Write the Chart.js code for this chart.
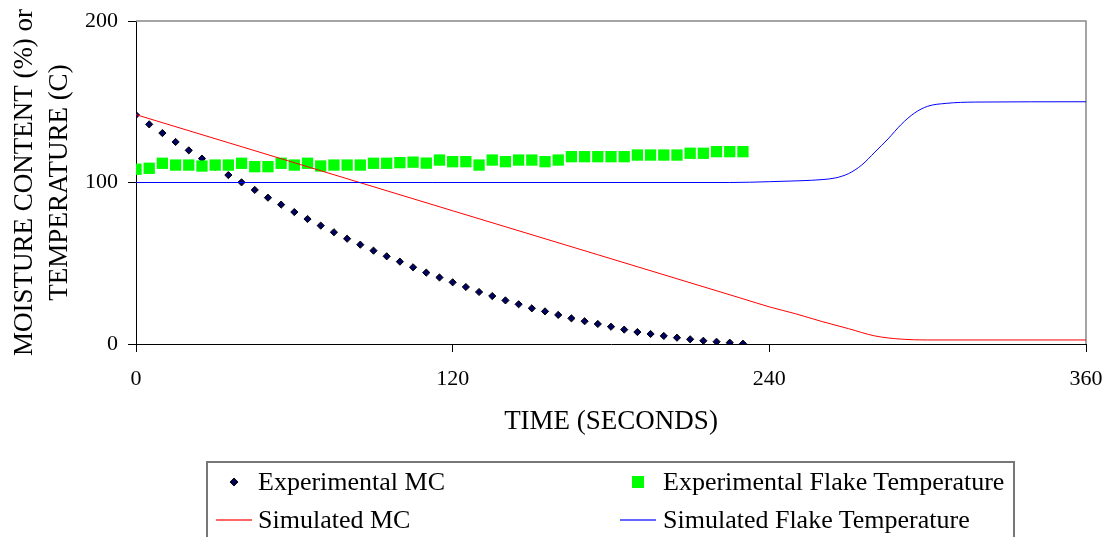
<!DOCTYPE html>
<html>
<head>
<meta charset="utf-8">
<script src="https://cdn.jsdelivr.net/npm/chart.js@4.4.1/dist/chart.umd.min.js"></script>
<style>
  body { margin: 0; background: #fff; }
  #wrap { position: relative; width: 1108px; height: 537px; overflow: hidden;
          font-family: 'Liberation Serif', 'Times New Roman', serif; }
  #legend { position: absolute; left: 206px; top: 461px; width: 809px; height: 100px;
            border: 2px solid #777; box-sizing: border-box; }
  .lg-text { position: absolute; font-size: 26px; line-height: 30px; white-space: nowrap; color: #000; }
  .lg-mark { position: absolute; }
</style>
</head>
<body>
<div id="wrap">
  <canvas id="chart" width="1108" height="537"></canvas>
  <div id="legend"></div>
</div>
<script>
/* drying curves: moisture content + flake temperature vs time */

// experimental samples, every 5 s
const expTime = [0, 5, 10, 15, 20, 25, 30, 35, 40, 45, 50, 55, 60, 65, 70, 75, 80, 85, 90, 95,
    100, 105, 110, 115, 120, 125, 130, 135, 140, 145, 150, 155, 160, 165, 170, 175, 180, 185, 190,
    195, 200, 205, 210, 215, 220, 225, 230];
const expMC = [141.8, 136.0, 130.6, 125.1, 119.9, 114.8, 109.8, 104.6, 100.1, 95.4, 90.6, 86.3,
    81.7, 77.4, 73.3, 69.2, 65.2, 61.5, 57.8, 54.3, 51.0, 47.5, 44.2, 41.2, 38.2, 35.3, 32.2, 29.7,
    27.0, 24.6, 22.1, 20.2, 18.0, 15.9, 14.1, 12.4, 10.7, 8.9, 7.4, 6.2, 5.0, 3.9, 2.9, 2.0, 1.4,
    0.8, 0.2];
const expTemp = [108.2, 108.8, 111.9, 110.8, 110.8, 110.2, 110.8, 110.8, 111.9, 109.8, 109.8,
    111.9, 110.8, 111.9, 110.2, 110.8, 110.8, 110.8, 111.9, 111.9, 112.3, 112.6, 112.0, 113.9,
    112.9, 112.9, 110.8, 113.9, 112.9, 113.9, 113.9, 112.9, 113.9, 116.0, 116.0, 116.0, 116.0,
    116.0, 117.0, 117.0, 117.0, 117.0, 118.1, 118.1, 119.1, 119.1, 119.1];

// simulated curves
const simMCTime = [0, 120, 230, 240, 250, 260, 270, 280, 290, 300, 360];
const simMC = [142.0, 82.5, 28.0, 23.0, 18.7, 13.9, 9.5, 5.0, 3.0, 2.5, 2.5];
const simTempTime = [0, 225, 240, 252, 260, 265, 270, 275, 280, 285, 290, 295, 300, 307, 318, 360];
const simTemp = [100, 100, 100.5, 101.1, 101.8, 102.8, 105.5, 110.8, 118.8, 127.0, 136.0, 143.0,
    147.2, 149.0, 149.8, 150];

const xTicks = [0, 120, 240, 360];
const yTicks = [0, 100, 200];

const pts = (xs, ys) => xs.map((x, i) => ({x: x, y: ys[i]}));

const serif = 'Liberation Serif';

// grey top/right frame of the plot box
const plotFrame = {
    id: 'plotFrame',
    beforeDatasetsDraw(chart) {
        const {ctx, chartArea: a} = chart;
        ctx.save();
        ctx.strokeStyle = '#888';
        ctx.lineWidth = 1.5;
        ctx.beginPath();
        ctx.moveTo(a.left, a.top);
        ctx.lineTo(a.right, a.top);
        ctx.lineTo(a.right, a.bottom);
        ctx.stroke();
        ctx.restore();
    }
};

const chart = new Chart(document.getElementById('chart').getContext('2d'), {
    type: 'line',
    data: {
        datasets: [
            {
                label: 'Experimental MC',
                data: pts(expTime, expMC),
                showLine: false,
                pointStyle: 'rectRot',
                pointRadius: 3.6,
                backgroundColor: '#000060',
                borderColor: '#000',
                borderWidth: 1,
                order: 4,
            },
            {
                label: 'Experimental Flake Temperature',
                data: pts(expTime, expTemp),
                showLine: false,
                pointStyle: 'rect',
                pointRadius: 8,
                backgroundColor: '#00ff00',
                borderColor: '#00ff00',
                borderWidth: 0,
                order: 3,
            },
            {
                label: 'Simulated MC',
                data: pts(simMCTime, simMC),
                borderColor: '#ff0000',
                borderWidth: 1,
                pointRadius: 0,
                cubicInterpolationMode: 'monotone',
                fill: false,
                order: 2,
            },
            {
                label: 'Simulated Flake Temperature',
                data: pts(simTempTime, simTemp),
                borderColor: '#0000ff',
                borderWidth: 1,
                pointRadius: 0,
                cubicInterpolationMode: 'monotone',
                fill: false,
                order: 1,
            },
        ]
    },
    options: {
        responsive: false,
        animation: false,
        layout: { padding: { top: 21, right: 22, bottom: 93, left: 0 } },
        scales: {
            x: {
                type: 'linear',
                min: 0, max: 360,
                afterFit: s => { s.height = 100; s.paddingLeft = 0; s.paddingRight = 0; },
                afterBuildTicks: s => { s.ticks = xTicks.map(v => ({value: v})); },
                ticks: { color: '#000', padding: 14, font: { family: serif, size: 22 } },
                grid: { drawOnChartArea: false, drawTicks: true, tickLength: 8, color: '#000' },
                border: { color: '#000', width: 1 },
                title: {
                    display: true, text: 'TIME (SECONDS)', color: '#000',
                    font: { family: serif, size: 27 }, padding: { top: 0, bottom: 6 }
                }
            },
            y: {
                min: 0, max: 200,
                afterFit: s => { s.width = 136; s.paddingTop = 0; s.paddingBottom = 0; },
                afterBuildTicks: s => { s.ticks = yTicks.map(v => ({value: v})); },
                ticks: { color: '#000', padding: 10, font: { family: serif, size: 22 } },
                grid: { drawOnChartArea: false, drawTicks: true, tickLength: 8, color: '#000' },
                border: { color: '#000', width: 1 },
                title: {
                    display: true, text: ['MOISTURE CONTENT (%) or', 'TEMPERATURE (C)'], color: '#000',
                    font: { family: serif, size: 27, lineHeight: 1.3 }, padding: { top: 7, bottom: 0 }
                }
            }
        },
        plugins: {
            legend: { display: false },
            tooltip: { enabled: false }
        }
    },
    plugins: [plotFrame]
});

// ---- legend box (2 x 2) ----
function renderLegend() {
    const box = document.getElementById('legend');
    const colX = [26, 430];     // marker centre
    const textX = [50, 455];
    const rowY = [19, 57];
    chart.data.datasets.forEach((ds, i) => {
        const col = i % 2, row = Math.floor(i / 2);
        const mark = document.createElement('div');
        mark.className = 'lg-mark';
        const cx = colX[col], cy = rowY[row];
        if (ds.showLine === false && ds.pointStyle === 'rectRot') {
            Object.assign(mark.style, { left: (cx - 3) + 'px', top: (cy - 3) + 'px', width: '6px', height: '6px',
                background: ds.backgroundColor, border: '0.5px solid #000', transform: 'rotate(45deg)', boxSizing: 'border-box' });
        } else if (ds.showLine === false) {
            Object.assign(mark.style, { left: (cx - 6) + 'px', top: (cy - 6) + 'px', width: '12px', height: '12px',
                background: ds.backgroundColor });
        } else {
            Object.assign(mark.style, { left: (cx - 18) + 'px', top: (cy - 1) + 'px', width: '36px', height: '2px',
                background: ds.borderColor, opacity: 0.6 });
        }
        box.appendChild(mark);
        const t = document.createElement('div');
        t.className = 'lg-text';
        t.textContent = ds.label;
        t.style.left = textX[col] + 'px';
        t.style.top = (cy - 15) + 'px';
        box.appendChild(t);
    });
}
renderLegend();
</script>
</body>
</html>
